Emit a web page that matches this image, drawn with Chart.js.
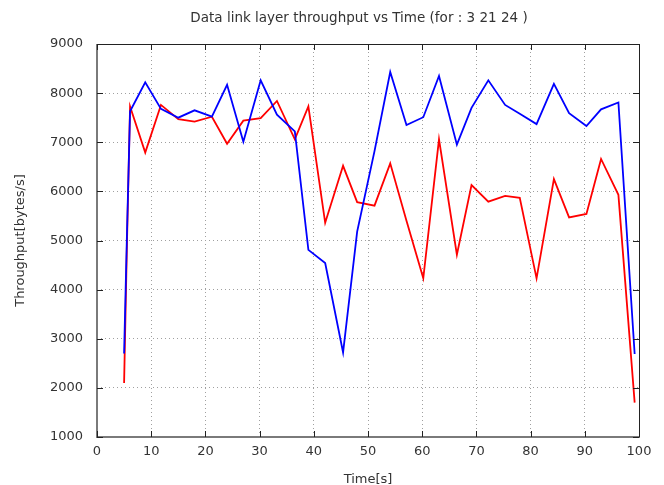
<!DOCTYPE html>
<html>
<head>
<meta charset="utf-8">
<script src="https://cdn.jsdelivr.net/npm/chart.js@4.4.1/dist/chart.umd.min.js"></script>
<style>
html,body{margin:0;padding:0;background:#fff;}
#wrap{width:664px;height:485px;position:relative;}
</style>
</head>
<body>
<div id="wrap"><canvas id="c" width="664" height="485"></canvas></div>
<script>
const titleText = "Data link layer throughput vs Time (for : 3 21 24 )";
const xLabel = "Time[s]";
const yLabel = "Throughput[bytes/s]";
const times = [5.0, 5.5, 6.1, 8.9, 11.8, 15.0, 18.0, 21.2, 24.0, 27.0, 30.2, 33.2, 36.5, 39.0, 42.1, 45.4, 48.0, 51.2, 54.1, 57.1, 60.2, 63.1, 66.4, 69.1, 72.2, 75.3, 78.0, 81.1, 84.3, 87.1, 90.3, 93.0, 96.2, 99.2];
const blueSeries = [2700, 5000, 7630, 8220, 7680, 7500, 7650, 7520, 8170, 7010, 8260, 7560, 7220, 4810, 4540, 2720, 5180, 6820, 8430, 7350, 7510, 8350, 6950, 7700, 8260, 7760, 7580, 7370, 8190, 7590, 7330, 7670, 7810, 2690];
const redSeries = [2100, 4800, 7730, 6790, 7760, 7470, 7420, 7520, 6970, 7440, 7490, 7840, 7060, 7730, 5360, 6520, 5780, 5710, 6570, 5400, 4230, 7060, 4710, 6130, 5790, 5910, 5870, 4230, 6250, 5470, 5540, 6660, 5930, 1700];
const xTicks = [0,10,20,30,40,50,60,70,80,90,100];
const yTicks = [1000,2000,3000,4000,5000,6000,7000,8000,9000];

const FONT = "DejaVu Sans";
const TEXT = '#333';

const framePlugin = {
  id: 'frame',
  afterDraw(chart) {
    const ctx = chart.ctx;
    const a = chart.chartArea;
    const xs = chart.scales.x, ys = chart.scales.y;
    const l = Math.round(a.left), r = Math.round(a.right), t = Math.round(a.top), b = Math.round(a.bottom);
    ctx.save();
    ctx.strokeStyle = '#222';
    ctx.lineWidth = 1;
    ctx.beginPath();
    ctx.moveTo(l, t + 0.5); ctx.lineTo(r + 1, t + 0.5);
    ctx.moveTo(r + 0.5, t); ctx.lineTo(r + 0.5, b);
    ctx.stroke();
    ctx.strokeStyle = '#7a7a7a';
    ctx.lineWidth = 2;
    ctx.beginPath();
    ctx.moveTo(l, t); ctx.lineTo(l, b + 1);
    ctx.moveTo(l - 1, b); ctx.lineTo(r + 1, b);
    ctx.stroke();
    const L = 6;
    ctx.strokeStyle = '#222';
    ctx.lineWidth = 1;
    ctx.beginPath();
    xTicks.forEach(v => {
      const px = Math.round(xs.getPixelForValue(v)) + 0.5;
      ctx.moveTo(px, b); ctx.lineTo(px, b - L);
      ctx.moveTo(px, t); ctx.lineTo(px, t + L);
    });
    yTicks.forEach(v => {
      const py = Math.round(ys.getPixelForValue(v)) + 0.5;
      ctx.moveTo(l, py); ctx.lineTo(l + L, py);
      ctx.moveTo(r, py); ctx.lineTo(r - L, py);
    });
    ctx.stroke();
    ctx.fillStyle = TEXT;
    ctx.font = "13.5px '" + FONT + "'";
    ctx.textAlign = 'center';
    ctx.textBaseline = 'middle';
    ctx.fillText(titleText, 359, 18);
    ctx.restore();
  }
};

new Chart(document.getElementById('c'), {
  type: 'line',
  data: {
    datasets: [
      { data: times.map((t,i)=>({x:t,y:blueSeries[i]})), borderColor: '#0000ff', borderWidth: 1.8, pointRadius: 0, tension: 0, fill: false },
      { data: times.map((t,i)=>({x:t,y:redSeries[i]})), borderColor: '#ff0000', borderWidth: 1.8, pointRadius: 0, tension: 0, fill: false }
    ]
  },
  options: {
    responsive: false,
    animation: false,
    devicePixelRatio: 1,
    layout: { padding: { top: 44, right: 25, bottom: 0, left: 0 } },
    plugins: { legend: { display: false }, tooltip: { enabled: false }, title: { display: false } },
    scales: {
      x: {
        type: 'linear', min: 0, max: 100,
        afterFit(s) { s.height = 48; },
        afterBuildTicks(s) { s.ticks = xTicks.map(v => ({value: v})); },
        ticks: { color: TEXT, font: { family: FONT, size: 13 }, padding: 7, maxRotation: 0, autoSkip: false, callback: v => String(v) },
        grid: { color: '#a0a0a0', lineWidth: 1, drawTicks: false },
        border: { display: false, dash: [1, 3] },
        title: { display: true, text: xLabel, color: TEXT, font: { family: FONT, size: 13 }, padding: { top: 0, bottom: -2 } }
      },
      y: {
        type: 'linear', min: 1000, max: 9000,
        afterFit(s) { s.width = 97; },
        afterBuildTicks(s) { s.ticks = yTicks.map(v => ({value: v})); },
        ticks: { color: TEXT, font: { family: FONT, size: 13 }, padding: 14, autoSkip: false, callback: v => String(v) },
        grid: { color: '#a0a0a0', lineWidth: 1, drawTicks: false },
        border: { display: false, dash: [1, 3] },
        title: { display: true, text: yLabel, color: TEXT, font: { family: FONT, size: 13 }, padding: { top: 13, bottom: 0 } }
      }
    }
  },
  plugins: [framePlugin]
});
</script>
</body>
</html>
